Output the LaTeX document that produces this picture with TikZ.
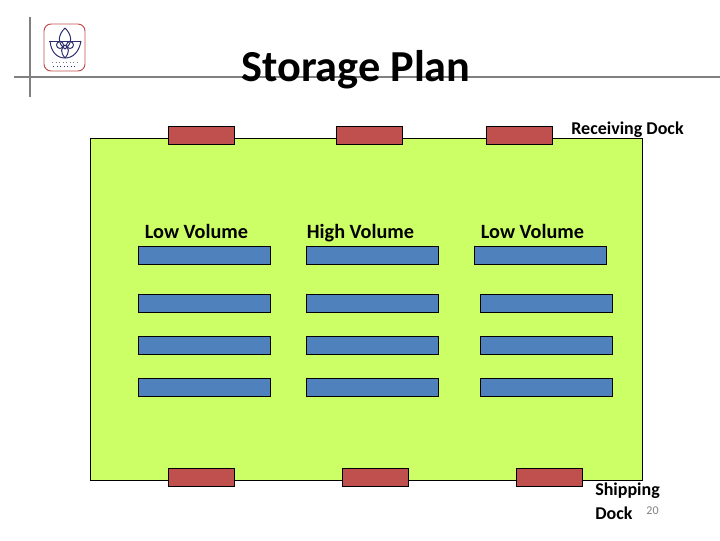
\documentclass[tikz,border=0pt]{standalone}
\usepackage{fontspec}
\setmainfont{Carlito}
\usepackage{xcolor}
\definecolor{floorgreen}{HTML}{CCFF66}
\definecolor{dockred}{HTML}{C0504D}
\definecolor{rackblue}{HTML}{4F81BD}
\definecolor{rulegray}{HTML}{808080}
\definecolor{logoblue}{HTML}{2E2E6E}
\tikzset{
  dock/.style={draw=black, fill=dockred, line width=0.5pt, minimum width=47pt, minimum height=12.8pt, inner sep=0pt},
  rack/.style={draw=black, fill=rackblue, line width=0.5pt, minimum width=94pt, minimum height=12.8pt, inner sep=0pt},
  label/.style={font=\fontsize{14.4}{16}\selectfont\bfseries, inner sep=0pt, anchor=base},
  smalllabel/.style={font=\fontsize{12.8}{17}\selectfont\bfseries, inner sep=0pt, anchor=base},
  headrule/.style={rulegray, line width=2.1pt},
  petal/.style={logoblue, line width=0.7pt}
}
\begin{document}
\begin{tikzpicture}[x=0.025cm, y=-0.025cm]
      \useasboundingbox (0,0) rectangle (720,540);

      % header
      \coordinate (h1) at (14,77);
      \coordinate (h2) at (720,77);
      \coordinate (v1) at (30,17);
      \coordinate (v2) at (30,97);
      \draw[headrule] (h1) -- (h2);
      \draw[headrule] (v1) -- (v2);
      \node[inner sep=0pt, anchor=base, font=\fontsize{31.5}{34}\selectfont\bfseries] (title) at (356,81) {Storage Plan};

      % logo
      \draw[draw=dockred, line width=0.7pt, rounded corners=5pt] (44,24) rectangle (85,71);
      \draw[petal] (65,28) .. controls (58,35) and (57,43) .. (65,49) .. controls (73,43) and (72,35) .. (65,28);
      \draw[petal] (50,41) .. controls (51,52) and (57,58) .. (65,58) .. controls (73,58) and (79,52) .. (81,41);
      \draw[petal] (49,41) -- (81,41);
      \draw[petal] (60,45) circle (3.5);
      \draw[petal] (70,45) circle (3.5);
      \draw[petal] (65,58) .. controls (60,52) and (61,48) .. (65,45) .. controls (69,48) and (70,52) .. (65,58);
      \draw[rulegray, line width=0.5pt, dotted] (52,62) -- (78,62);
      \draw[logoblue, line width=0.5pt, dotted] (53,66) -- (77,66);

      % floor
      \node[draw=black, fill=floorgreen, line width=0.5pt, minimum width=392.6pt, minimum height=243.3pt, inner sep=0pt] (floor) at (366.25,309) {};

      % docks
      \node[dock] (r1) at (201,135) {};
      \node[dock] (r2) at (369,135) {};
      \node[dock] (r3) at (519,135) {};
      \node[dock] (s1) at (201,477) {};
      \node[dock] (s2) at (375,477) {};
      \node[dock] (s3) at (549,477) {};

      % racks
      \foreach \y [count=\i] in {255,303,345,387} {
        \node[rack] (a\i) at (204,\y) {};
        \node[rack] (b\i) at (372,\y) {};
      }
      \node[rack] (c1) at (540,255) {};
      \node[rack] (c2) at (546,303) {};
      \node[rack] (c3) at (546,345) {};
      \node[rack] (c4) at (546,387) {};

      % labels
      \node[label] (low1) at (196.5,238) {Low Volume};
      \node[label] (high) at (360.5,238) {High Volume};
      \node[label] (low2) at (532.5,238) {Low Volume};
      \node[smalllabel] (recv) at (627.5,134) {Receiving Dock};
      \node[smalllabel, align=left, anchor=north west] (ship) at (595,482.5) {Shipping\\Dock};
      \node[inner sep=0pt, text=rulegray, font=\fontsize{8.5}{10}\selectfont] (page) at (652.5,510.5) {20};
\end{tikzpicture}
\end{document}
